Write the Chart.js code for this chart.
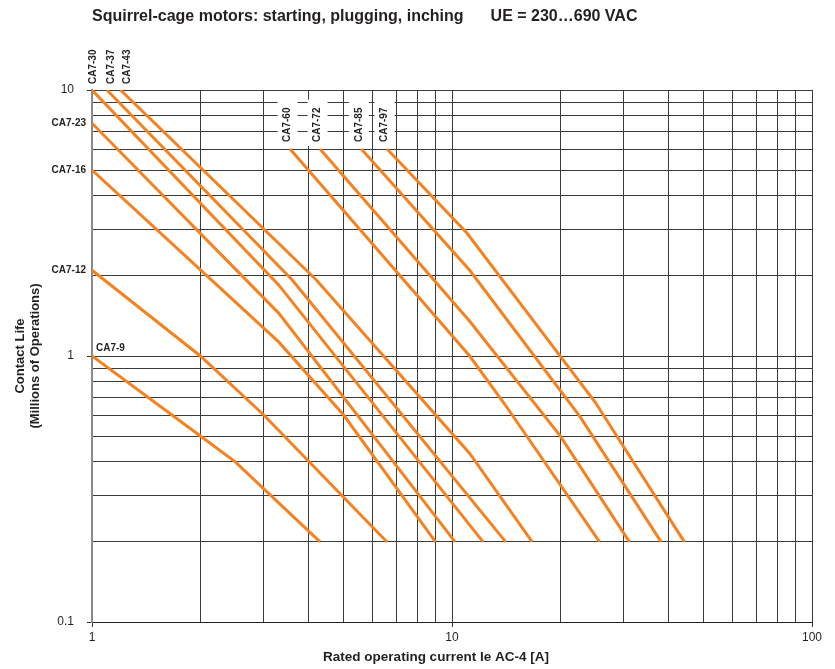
<!DOCTYPE html>
<html>
<head>
<meta charset="utf-8">
<title>CA7 contact life, AC-4</title>
<script src="https://cdn.jsdelivr.net/npm/chart.js@4.4.1/dist/chart.umd.min.js"></script>
<style>
    html, body { margin: 0; padding: 0; background: #fff; }
</style>
</head>
<body>
<canvas id="life-chart" width="835" height="669"></canvas>
<script>
const FONT = '"Liberation Sans", Arial, Helvetica, sans-serif';
const INK = '#231f20';

const contactors = ["CA7-9", "CA7-12", "CA7-16", "CA7-23", "CA7-30", "CA7-37", "CA7-43",
                    "CA7-60", "CA7-72", "CA7-85", "CA7-97"];

// rated operating current Ie [A] at the break points of each curve
const currents = [
    [1, 2, 2.5, 4.3],
    [1, 2, 3, 6.6],
    [1, 3.3, 5, 9],
    [1, 3.3, 10.2],
    [1, 3.3, 12.2],
    [1.1, 3.6, 14.1],
    [1.2, 4.2, 11.2, 16.7],
    [3.55, 11.2, 14, 25.7],
    [4.3, 11.2, 20, 31.1],
    [5.6, 11.2, 22.7, 38.1],
    [6.6, 11, 25, 44.2]
];

// contact life [millions of operations] at the same points
const lives = [
    [1, 0.5, 0.4, 0.2],
    [2.1, 1, 0.6, 0.2],
    [5, 1.13, 0.6, 0.2],
    [7.5, 1.45, 0.2],
    [10, 1.85, 0.2],
    [10, 1.93, 0.2],
    [10, 1.93, 0.43, 0.2],
    [6, 1.0, 0.66, 0.2],
    [6, 1.35, 0.5, 0.2],
    [6, 2.1, 0.59, 0.2],
    [6, 2.9, 0.67, 0.2]
];

const xTickLabels = [1, 10, 100];
const yTickLabels = [0.1, 1, 10];

// where each curve name goes relative to the start of its curve
const labelSide = ["above", "left", "left", "left", "top", "top", "top", "box", "box", "box", "box"];

function logTicks(min, max) {
    let ticks = [];
    for (let d = min; d < max; d *= 10) {
        for (let s = 1; s < 10; s++) {
            ticks.push({ value: +(s * d).toPrecision(3) });
        }
    }
    ticks.push({ value: max });
    return ticks;
}

const curveLabels = {
    id: 'curveLabels',
    afterDatasetsDraw(chart) {
        const ctx = chart.ctx;
        const x = chart.scales.x, y = chart.scales.y;
        ctx.save();
        ctx.font = 'bold 10px ' + FONT;
        ctx.fillStyle = INK;
        let topCount = 0;
        contactors.forEach((name, i) => {
            const px = x.getPixelForValue(currents[i][0]);
            const py = y.getPixelForValue(lives[i][0]);
            const side = labelSide[i];
            if (side === 'left') {
                ctx.textAlign = 'right';
                ctx.textBaseline = 'middle';
                ctx.fillText(name, px - 6, py);
            } else if (side === 'above') {
                ctx.textAlign = 'left';
                ctx.textBaseline = 'middle';
                ctx.fillText(name, px + 4, py - 8);
            } else {
                const w = ctx.measureText(name).width;
                ctx.save();
                if (side === 'top') {
                    ctx.translate(px + 1 + topCount * 3, py - 6);
                    topCount++;
                } else {
                    ctx.translate(px - 2.5, py - 7);
                }
                ctx.rotate(-Math.PI / 2);
                if (side === 'box') {
                    // white patch so the grid does not run through the name
                    ctx.fillStyle = '#fff';
                    ctx.fillRect(-4, -10, w + 12, 20);
                    ctx.fillStyle = INK;
                }
                ctx.textAlign = 'left';
                ctx.textBaseline = 'middle';
                ctx.fillText(name, 0, 0);
                ctx.restore();
            }
        });
        ctx.restore();
    }
};

const heading = {
    id: 'heading',
    afterDraw(chart) {
        const ctx = chart.ctx;
        const area = chart.chartArea;
        ctx.save();
        ctx.fillStyle = INK;
        ctx.textBaseline = 'middle';
        ctx.textAlign = 'left';
        ctx.font = 'bold 16px ' + FONT;
        const first = 'Squirrel-cage motors: starting, plugging, inching';
        ctx.fillText(first, area.left, 17);
        ctx.fillText('UE = 230\u2026690 VAC', area.left + ctx.measureText(first).width + 27, 17);

        ctx.font = 'bold 13.5px ' + FONT;
        ctx.textAlign = 'center';
        ctx.fillText('Rated operating current Ie AC-4 [A]', 436, 657);
        ctx.restore();
    }
};

const ctx = document.getElementById('life-chart');
new Chart(ctx, {
    type: 'line',
    data: {
        datasets: contactors.map((name, i) => ({
            label: name,
            data: currents[i].map((c, j) => ({ x: c, y: lives[i][j] })),
            borderColor: '#f58220',
            borderWidth: 3,
            pointRadius: 0,
            tension: 0,
            fill: false
        }))
    },
    options: {
        responsive: false,
        animation: false,
        layout: { padding: { left: 0, top: 90, right: 23, bottom: 0 } },
        plugins: {
            legend: { display: false },
            tooltip: { enabled: false }
        },
        scales: {
            x: {
                type: 'logarithmic',
                min: 1,
                max: 100,
                afterBuildTicks: s => { s.ticks = logTicks(1, 100); },
                afterFit: s => { s.height = 47; },
                grid: {
                    color: '#3a3a3a',
                    lineWidth: 1,
                    tickLength: 5,
                    tickColor: c => xTickLabels.includes(c.tick.value) ? '#333' : 'rgba(0,0,0,0)'
                },
                border: { color: INK, width: 1 },
                ticks: {
                    autoSkip: false,
                    maxRotation: 0,
                    padding: 3,
                    color: INK,
                    font: { family: FONT, size: 12 },
                    callback: v => xTickLabels.includes(v) ? String(v) : ''
                }
            },
            y: {
                type: 'logarithmic',
                min: 0.1,
                max: 10,
                afterBuildTicks: s => { s.ticks = logTicks(0.1, 10); },
                afterFit: s => { s.width = 92; },
                grid: {
                    color: '#3a3a3a',
                    lineWidth: 1,
                    tickLength: 5,
                    tickColor: c => yTickLabels.includes(c.tick.value) ? '#333' : 'rgba(0,0,0,0)'
                },
                border: { color: '#8a8a8a', width: 2 },
                ticks: {
                    autoSkip: false,
                    padding: 13,
                    color: INK,
                    font: { family: FONT, size: 12 },
                    callback: v => yTickLabels.includes(v) ? String(v) : ''
                },
                title: {
                    display: true,
                    text: ['Contact Life', '(Millions of Operations)'],
                    color: INK,
                    font: { family: FONT, size: 13, weight: 'bold', lineHeight: 1.154 },
                    padding: { top: 12.5, bottom: 0 }
                }
            }
        }
    },
    plugins: [curveLabels, heading]
});
</script>
</body>
</html>
